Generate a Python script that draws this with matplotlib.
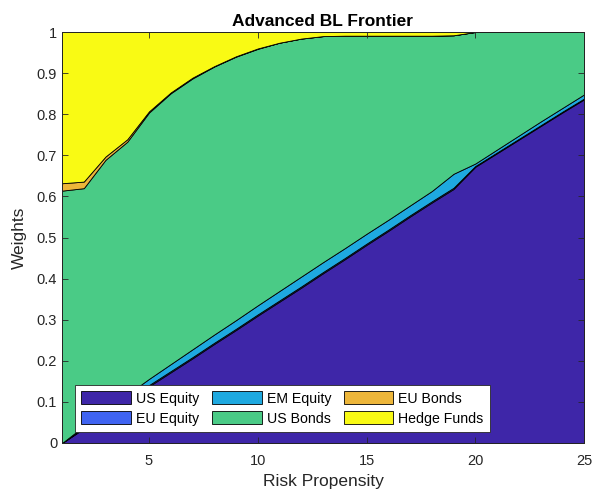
import numpy as np
import matplotlib
matplotlib.use("Agg")
import matplotlib.pyplot as plt

plt.rcParams['font.family'] = ['Liberation Sans', 'DejaVu Sans']

risk = np.arange(1, 26)

us_equity = [0.000, 0.035, 0.069, 0.103, 0.138, 0.172, 0.206, 0.241, 0.275, 0.310,
             0.344, 0.378, 0.413, 0.447, 0.482, 0.516, 0.551, 0.585, 0.618, 0.672,
             0.705, 0.738, 0.771, 0.804, 0.836]
eu_equity = [0.000, 0.002, 0.003, 0.003, 0.003, 0.003, 0.003, 0.003, 0.003, 0.003,
             0.003, 0.003, 0.003, 0.003, 0.003, 0.003, 0.003, 0.003, 0.003, 0.002,
             0.002, 0.002, 0.002, 0.002, 0.002]
em_equity = [0.000, 0.004, 0.008, 0.012, 0.015, 0.017, 0.019, 0.020, 0.021, 0.022,
             0.023, 0.024, 0.024, 0.024, 0.024, 0.024, 0.024, 0.025, 0.034, 0.006,
             0.007, 0.008, 0.009, 0.009, 0.010]
bonds_top = [0.614, 0.620, 0.689, 0.733, 0.804, 0.851, 0.887, 0.916, 0.940, 0.959,
             0.974, 0.984, 0.990, 0.991, 0.991, 0.991, 0.991, 0.991, 0.992, 1.000,
             1.000, 1.000, 1.000, 1.000, 1.000]
eu_bonds = [0.018, 0.016, 0.008, 0.006, 0.003, 0.002, 0.002, 0.001, 0.001, 0.001,
            0.000, 0.000, 0.000, 0.000, 0.000, 0.000, 0.000, 0.000, 0.000, 0.000,
            0.000, 0.000, 0.000, 0.000, 0.000]

us_equity = np.array(us_equity)
eu_equity = np.array(eu_equity)
em_equity = np.array(em_equity)
us_bonds = np.array(bonds_top) - us_equity - eu_equity - em_equity
eu_bonds = np.array(eu_bonds)
hedge_funds = np.clip(1.0 - (us_equity + eu_equity + em_equity + us_bonds + eu_bonds), 0, None)

labels = ["US Equity", "EU Equity", "EM Equity", "US Bonds", "EU Bonds", "Hedge Funds"]
colors = ["#3E26A8", "#3F63F1", "#1EA9E0", "#4ACB86", "#EDB63A", "#F9FA14"]

fig = plt.figure(figsize=(5.96, 4.93), dpi=100)
ax = fig.add_axes([62/596, 50/493, 522/596, 411/493])

ax.stackplot(risk, us_equity, eu_equity, em_equity, us_bonds, eu_bonds, hedge_funds,
             labels=labels, colors=colors, edgecolor="black", linewidth=0.6)

ax.set_xlim(1, 25)
ax.set_ylim(0, 1)
ax.set_xticks([5, 10, 15, 20, 25])
ax.set_yticks(np.arange(0, 1.01, 0.1))
ax.set_yticklabels(["0", "0.1", "0.2", "0.3", "0.4", "0.5", "0.6", "0.7", "0.8", "0.9", "1"])
ax.tick_params(direction="in", length=4, width=0.6, labelsize=10.5, colors="#262626",
               top=True, right=True)
ax.tick_params(axis="x", pad=8)
for s in ax.spines.values():
    s.set_color("#262626")
    s.set_linewidth(0.6)

ax.set_title("Advanced BL Frontier", fontsize=12.5, fontweight="bold", pad=4)
ax.set_xlabel("Risk Propensity", fontsize=12.5, color="#262626", labelpad=4)
ax.set_ylabel("Weights", fontsize=12.5, color="#262626", labelpad=7)

leg = ax.legend(loc="lower left", bbox_to_anchor=(0.025, 0.027), ncol=3, fontsize=10.2,
                frameon=True, fancybox=False, edgecolor="#262626", framealpha=1,
                handlelength=3.5, handleheight=1.0, columnspacing=0.9,
                handletextpad=0.35, labelspacing=0.4, borderpad=0.45, borderaxespad=0)
leg.get_frame().set_linewidth(0.6)

fig.savefig("out.png", dpi=100)
